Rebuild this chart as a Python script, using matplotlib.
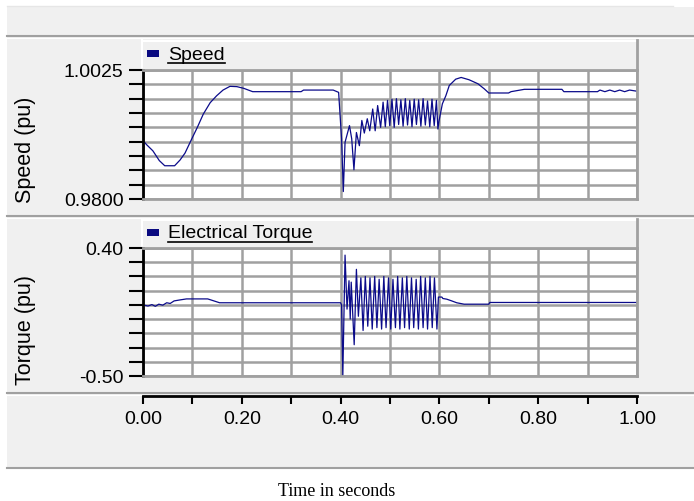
import numpy as np
import matplotlib
matplotlib.use("Agg")
import matplotlib.pyplot as plt
from matplotlib.patches import Rectangle
from matplotlib.ticker import MultipleLocator, FormatStrFormatter

plt.rcParams["font.family"] = ["Liberation Sans", "DejaVu Sans"]

W, H = 694, 502

# speed (pu): pre-fault, fault, post-fault
speed_t_pre = [0.000, 0.007, 0.020, 0.033, 0.044, 0.064, 0.075, 0.085, 0.096, 0.110, 0.122,
               0.136, 0.149, 0.162, 0.176, 0.190, 0.204, 0.222, 0.320, 0.325, 0.385, 0.396]
speed_pu_pre = [0.9902, 0.9895, 0.9884, 0.9867, 0.9858, 0.9858, 0.9868, 0.9880, 0.9900, 0.9925, 0.9948,
                0.9968, 0.9980, 0.9990, 0.99965, 0.9996, 0.9993, 0.99872, 0.99872, 0.9990, 0.9990, 0.9986]
speed_t_fault = [0.402, 0.4055, 0.409, 0.418, 0.4225, 0.427, 0.432, 0.438, 0.443, 0.448, 0.454,
                 0.459, 0.465, 0.470, 0.475, 0.481, 0.486,
                 0.4905, 0.495, 0.4995, 0.504, 0.5085, 0.513, 0.5175, 0.522, 0.5265, 0.531,
                 0.5355, 0.540, 0.5445, 0.549, 0.5535, 0.558, 0.5625, 0.567, 0.5715, 0.576,
                 0.5805, 0.585, 0.5895, 0.594, 0.597, 0.599]
speed_pu_fault = [0.9905, 0.9813, 0.9899, 0.9928, 0.9905, 0.9851, 0.9916, 0.9893, 0.9937, 0.9915, 0.9940,
                  0.9919, 0.9957, 0.9919, 0.9963, 0.9925, 0.9969,
                  0.9926, 0.9972, 0.9928, 0.9974, 0.9925, 0.9975, 0.9930, 0.9973, 0.9927, 0.9975,
                  0.9929, 0.9972, 0.9926, 0.9974, 0.9930, 0.9973, 0.9927, 0.9975, 0.9929, 0.9971,
                  0.9926, 0.9974, 0.9928, 0.9972, 0.9922, 0.9935]
speed_t_post = [0.606, 0.613, 0.620, 0.633, 0.644, 0.660, 0.678, 0.691, 0.700, 0.740, 0.745, 0.772,
                0.848, 0.852, 0.920, 0.925, 0.935, 0.945, 0.955, 0.965, 0.975, 0.985, 1.000]
speed_pu_post = [0.9966, 0.9980, 0.9998, 1.0009, 1.0012, 1.0008, 1.0001, 0.9992, 0.99849, 0.99849, 0.99872, 0.99913,
                 0.99913, 0.99872, 0.99872, 0.9990, 0.99872, 0.9990, 0.99872, 0.9990, 0.99872, 0.9990, 0.9988]

# electrical torque (pu)
torque_t_pre = [0.000, 0.010, 0.018, 0.025, 0.032, 0.040, 0.048, 0.055, 0.063, 0.075, 0.088,
                0.131, 0.140, 0.155, 0.400]
torque_pu_pre = [0.000, -0.008, 0.002, -0.010, 0.005, -0.002, 0.015, 0.010, 0.028, 0.035, 0.042,
                 0.042, 0.032, 0.015, 0.015]
torque_t_fault = [0.402, 0.4045, 0.409, 0.413, 0.417, 0.4195, 0.4215, 0.4275, 0.432, 0.436, 0.441,
                  0.4455, 0.450, 0.455, 0.4595, 0.464, 0.469, 0.4735, 0.478, 0.483, 0.4875, 0.492,
                  0.497, 0.5015, 0.506, 0.511, 0.5155, 0.520, 0.525, 0.5295, 0.534, 0.539, 0.5435,
                  0.548, 0.553, 0.5575, 0.562, 0.567, 0.5715, 0.576, 0.581, 0.5855, 0.590, 0.595, 0.598]
torque_pu_fault = [0.000, -0.500, 0.350, -0.030, 0.170, -0.100, 0.160, -0.280, 0.250, -0.080, 0.190,
                   -0.180, 0.200, -0.150, 0.190, -0.170, 0.200, -0.160, 0.180, -0.170, 0.200, -0.160,
                   0.190, -0.170, 0.180, -0.160, 0.200, -0.170, 0.190, -0.160, 0.200, -0.170, 0.190,
                   -0.160, 0.180, -0.170, 0.200, -0.160, 0.190, -0.170, 0.200, -0.160, 0.190, -0.170, 0.055]
torque_t_post = [0.605, 0.607, 0.615, 0.625, 0.635, 0.650, 0.700, 0.702, 1.000]
torque_pu_post = [0.055, 0.045, 0.040, 0.028, 0.015, 0.005, 0.005, 0.017, 0.017]

speed_ticks = [0.9800, 0.9825, 0.9850, 0.9875, 0.9900, 0.9925, 0.9950, 0.9975, 1.0000, 1.0025]
torque_ticks = [-0.50, -0.40, -0.30, -0.20, -0.10, 0.00, 0.10, 0.20, 0.30, 0.40]

speed_t = np.concatenate([speed_t_pre, speed_t_fault, speed_t_post])
speed_pu = np.concatenate([speed_pu_pre, speed_pu_fault, speed_pu_post])
torque_t = np.concatenate([torque_t_pre, torque_t_fault, torque_t_post])
torque_pu = np.concatenate([torque_pu_pre, torque_pu_fault, torque_pu_post])

LINE = "#0b0b8a"
BG = "#f0f0f0"
EDGE = "#a0a0a0"


def px(x0, y0, x1, y1):
    # pixel box (top-left origin) -> figure fraction rect
    return [x0 / W, 1 - y1 / H, (x1 - x0) / W, (y1 - y0) / H]


fig = plt.figure(figsize=(W / 100, H / 100), dpi=100, facecolor="white")

# background panels drawn in pixel space
bg = fig.add_axes([0, 0, 1, 1], zorder=0)
bg.set_xlim(0, W)
bg.set_ylim(H, 0)
bg.axis("off")
bg.add_patch(Rectangle((7, 8), W - 7, 461, facecolor=BG, edgecolor="none"))
bg.plot([7, 673], [7, 7], color="#e6e6e6", lw=1)
for yy in (37, 217, 394, 469):
    bg.plot([7, W], [yy, yy], color=EDGE, lw=1.5)
    bg.plot([7, W], [yy + 1.5, yy + 1.5], color="white", lw=0.8)

panels = [
    ("Speed", 41, 71, 200, speed_t, speed_pu, speed_ticks, "Speed (pu)", 150),
    ("Electrical Torque", 220, 249, 377, torque_t, torque_pu, torque_ticks, "Torque (pu)", 330),
]

texts = []
for name, ytop, y0, y1, t, v, ticks, ylabel, ylab_y in panels:
    # legend header box
    bg.add_patch(Rectangle((143, ytop), 494, y0 - ytop, facecolor=BG, edgecolor="none"))
    bg.plot([142.5, 142.5], [ytop, y0], color="white", lw=1.5)
    bg.plot([142.5, 637], [ytop + 0.5, ytop + 0.5], color="white", lw=1.5)
    bg.plot([637, 637], [ytop, y0], color=EDGE, lw=2)
    bg.add_patch(Rectangle((147, ytop + 10), 12, 7, facecolor="#0a0a80", edgecolor="none"))
    txt = bg.text(168, ytop + 14, name, fontsize=14, va="center", ha="left", color="black")
    texts.append(txt)

    ax = fig.add_axes(px(143, y0, 637, y1), zorder=2)
    ax.plot(t, v, color=LINE, lw=0.9)
    ax.set_xlim(0, 1)
    ax.set_ylim(ticks[0], ticks[-1])
    ax.xaxis.set_major_locator(MultipleLocator(0.1))
    ax.set_yticks(ticks)
    fmt = "%.4f" if name == "Speed" else "%.2f"
    ax.set_yticklabels([fmt % ticks[0]] + [""] * (len(ticks) - 2) + [fmt % ticks[-1]])
    ax.grid(True, color=EDGE, lw=1.8)
    ax.set_axisbelow(True)
    ax.tick_params(axis="x", bottom=False, labelbottom=False)
    ax.tick_params(axis="y", direction="out", length=10, width=1.5, color="black",
                   labelsize=14, pad=4)
    ax.spines["left"].set_color("black")
    ax.spines["left"].set_linewidth(2)
    for s in ("right", "bottom", "top"):
        ax.spines[s].set_color(EDGE)
        ax.spines[s].set_linewidth(2)

    fig.text(26 / W, 1 - ylab_y / H, ylabel, rotation=90, fontsize=15.5,
             ha="center", va="center")

# shared time axis
axx = fig.add_axes([143 / W, 1 - 397 / H, 494 / W, 0.0001], zorder=2)
axx.set_xlim(0, 1)
axx.patch.set_visible(False)
for s in ("left", "right", "top"):
    axx.spines[s].set_visible(False)
axx.spines["bottom"].set_linewidth(2)
axx.set_yticks([])
axx.xaxis.set_major_locator(MultipleLocator(0.2))
axx.xaxis.set_minor_locator(MultipleLocator(0.1))
axx.xaxis.set_major_formatter(FormatStrFormatter("%.2f"))
axx.tick_params(axis="x", which="both", direction="out", length=6, width=1.5,
                labelsize=14, pad=4)

fig.text(337 / W, 1 - 492 / H, "Time in seconds", fontsize=13, ha="center", va="center",
         family=["Liberation Serif", "DejaVu Serif"])

# underline legend names
fig.canvas.draw()
renderer = fig.canvas.get_renderer()
inv = bg.transData.inverted()
for txt in texts:
    bb = txt.get_window_extent(renderer)
    (xa, ya), (xb, yb) = inv.transform([[bb.x0, bb.y0], [bb.x1, bb.y1]])
    bg.plot([xa, xb], [ya + 1, ya + 1], color="black", lw=1.2)

fig.savefig("out.png", dpi=100, facecolor="white")
